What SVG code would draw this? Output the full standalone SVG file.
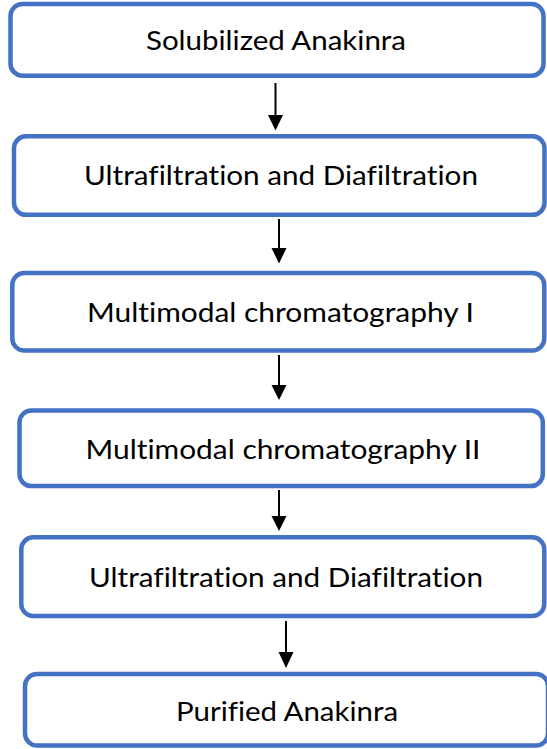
<svg xmlns="http://www.w3.org/2000/svg" width="547" height="749" viewBox="0 0 547 749">
  <style>
    .box { fill: #ffffff; stroke: #4472C4; stroke-width: 4.5; }
    .label { font-family: Lato, "Open Sans", "Liberation Sans", sans-serif; font-size: 27.5px; fill: #000000; text-anchor: start; font-variant-ligatures: none; font-feature-settings: "liga" 0, "dlig" 0; }
    .conn { stroke: #000000; stroke-width: 2; fill: none; }
    .head { fill: #000000; stroke: none; }
  </style>
  <rect width="547" height="749" fill="#ffffff"/>

  <g id="node-solubilized">
    <rect class="box" x="10.5" y="4" width="533" height="71.7" rx="12"/>
    <text class="label" x="146" y="50" textLength="260" lengthAdjust="spacingAndGlyphs">Solubilized Anakinra</text>
  </g>

  <g id="node-ufdf-1">
    <rect class="box" x="14" y="136.3" width="530.5" height="78.5" rx="12"/>
    <text class="label" x="84" y="185" textLength="394" lengthAdjust="spacingAndGlyphs">Ultrafiltration and Diafiltration</text>
  </g>

  <g id="node-mmc-1">
    <rect class="box" x="12.3" y="273" width="532" height="77.5" rx="12"/>
    <text class="label" x="87" y="321.7" textLength="387" lengthAdjust="spacingAndGlyphs">Multimodal chromatography I</text>
  </g>

  <g id="node-mmc-2">
    <rect class="box" x="19.5" y="410.5" width="523.3" height="75.6" rx="12"/>
    <text class="label" x="85.5" y="459.3" textLength="395" lengthAdjust="spacingAndGlyphs">Multimodal chromatography II</text>
  </g>

  <g id="node-ufdf-2">
    <rect class="box" x="21.3" y="537.3" width="523" height="78.7" rx="12"/>
    <text class="label" x="89" y="586.7" textLength="394" lengthAdjust="spacingAndGlyphs">Ultrafiltration and Diafiltration</text>
  </g>

  <g id="node-purified">
    <rect class="box" x="25" y="674" width="523" height="71.5" rx="12"/>
    <text class="label" x="176" y="720.7" textLength="222" lengthAdjust="spacingAndGlyphs">Purified Anakinra</text>
  </g>

  <g id="connectors">
    <line class="conn" x1="275.5" y1="83" x2="275.5" y2="116"/>
    <polygon class="head" points="268,115 283,115 275.5,130.5"/>

    <line class="conn" x1="279" y1="219" x2="279" y2="249"/>
    <polygon class="head" points="271.5,248 286.5,248 279,263.5"/>

    <line class="conn" x1="279" y1="355" x2="279" y2="386"/>
    <polygon class="head" points="271.5,385 286.5,385 279,400"/>

    <line class="conn" x1="279" y1="490" x2="279" y2="517"/>
    <polygon class="head" points="271.5,516 286.5,516 279,531"/>

    <line class="conn" x1="286" y1="621" x2="286" y2="653"/>
    <polygon class="head" points="278.5,652 293.5,652 286,668"/>
  </g>
</svg>
